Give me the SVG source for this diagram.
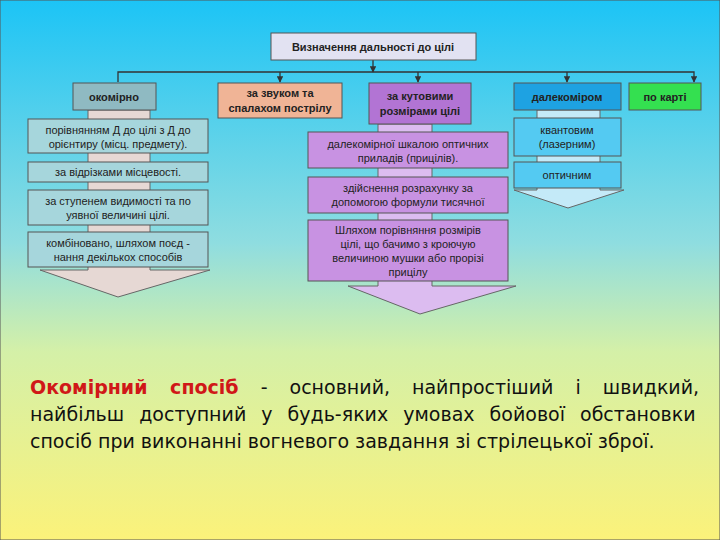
<svg xmlns="http://www.w3.org/2000/svg" width="720" height="540" viewBox="0 0 720 540">
<defs>
<linearGradient id="bg" x1="0" y1="0" x2="0" y2="1">
<stop offset="0" stop-color="#1cc4f6"/><stop offset="0.45" stop-color="#8fdde0"/><stop offset="0.65" stop-color="#d4f0a8"/><stop offset="1" stop-color="#fbf27a"/>
</linearGradient>
<marker id="ar" viewBox="0 0 10 10" refX="9" refY="5" markerWidth="5" markerHeight="5" orient="auto"><path d="M0,0 L10,5 L0,10 z" fill="#333"/></marker>
<style>
text{font-family:"Liberation Sans",Arial,sans-serif;font-size:11px;fill:#222;text-anchor:middle}
.b{font-weight:bold}
rect{stroke:#555;stroke-width:1}
.arw{stroke:#666;stroke-width:1}
.bt{font-family:"DejaVu Sans",sans-serif;font-size:19px;text-anchor:start;fill:#111}
</style>
</defs>
<rect x="0" y="0" width="720" height="540" fill="url(#bg)" stroke="none"/>
<g id="connectors" stroke="#333" stroke-width="1.3" fill="none">
<line x1="373" y1="60" x2="373" y2="72" marker-end="url(#ar)"/>
<polyline points="118,82 118,72 694,72 694,82" marker-end="url(#ar)"/>
<line x1="280" y1="72" x2="280" y2="82" marker-end="url(#ar)"/>
<line x1="418" y1="72" x2="418" y2="82" marker-end="url(#ar)"/>
<line x1="567" y1="72" x2="567" y2="82" marker-end="url(#ar)"/>
</g>
<g id="arrows">
<polygon class="arw" points="88,110 150,110 150,270 210,270 118,297 40,270 88,270" fill="#e6d8d4"/>
<polygon class="arw" points="378,124 432,124 432,286 516,286 420,314 348,286 378,286" fill="#dcbcf0"/>
<polygon class="arw" points="537,110 600,110 600,190 624,190 568,208 514,190 537,190" fill="#c4eaf8"/>
</g>
<g id="title"><rect x="271" y="33" width="205" height="27" fill="#e2e2f2"/><text x="373" y="51" class="b">Визначення дальності до цілі</text></g>
<g id="n-okom"><rect x="73" y="83" width="83" height="27" fill="#8fbac2"/><text x="114" y="101" class="b">окомірно</text></g>
<g id="n-zvuk"><rect x="218" y="83" width="124" height="35" fill="#f0b496"/><text x="280" y="97" class="b">за звуком та</text><text x="280" y="112" class="b">спалахом пострілу</text></g>
<g id="n-kut"><rect x="369" y="83" width="102" height="41" fill="#b274d4"/><text x="420" y="100" class="b">за кутовими</text><text x="420" y="115" class="b">розмірами цілі</text></g>
<g id="n-dal"><rect x="514" y="83" width="107" height="27" fill="#1ea2e2"/><text x="567" y="101" class="b">далекоміром</text></g>
<g id="n-karta"><rect x="629" y="83" width="72" height="27" fill="#34e050"/><text x="665" y="101" class="b">по карті</text></g>
<g id="l1"><rect x="28" y="119" width="180" height="34" fill="#a6d6dc"/><text x="118" y="134">порівнянням Д до цілі з Д до</text><text x="118" y="148">орієнтиру (місц. предмету).</text></g>
<g id="l2"><rect x="28" y="162" width="180" height="20" fill="#a6d6dc"/><text x="118" y="176">за відрізками місцевості.</text></g>
<g id="l3"><rect x="28" y="190" width="180" height="35" fill="#a6d6dc"/><text x="118" y="205">за ступенем видимості та по</text><text x="118" y="219">уявної величині цілі.</text></g>
<g id="l4"><rect x="28" y="232" width="180" height="35" fill="#a6d6dc"/><text x="118" y="247">комбіновано, шляхом поєд -</text><text x="118" y="261">нання декількох способів</text></g>
<g id="m1"><rect x="308" y="132" width="200" height="36" fill="#c892e2"/><text x="408" y="148">далекомірної шкалою оптичних</text><text x="408" y="162">приладів (прицілів).</text></g>
<g id="m2"><rect x="308" y="177" width="200" height="36" fill="#c892e2"/><text x="408" y="192">здійснення розрахунку за</text><text x="408" y="206">допомогою формули тисячної</text></g>
<g id="m3"><rect x="308" y="220" width="200" height="61" fill="#c892e2"/><text x="408" y="234">Шляхом порівняння розмірів</text><text x="408" y="248">цілі, що бачимо з кроючую</text><text x="408" y="262">величиною мушки або прорізі</text><text x="408" y="276">прицілу</text></g>
<g id="r1"><rect x="514" y="118" width="107" height="38" fill="#54caf2"/><text x="567" y="134">квантовим</text><text x="567" y="148">(лазерним)</text></g>
<g id="r2"><rect x="514" y="162" width="107" height="26" fill="#54caf2"/><text x="567" y="179">оптичним</text></g>
<g id="bottom">
<text class="bt" x="30" y="394" word-spacing="16"><tspan fill="#d01818" font-weight="bold">Окомірний спосіб</tspan> - основний, найпростіший і швидкий,</text>
<text class="bt" x="30" y="421" word-spacing="9">найбільш доступний у будь-яких умовах бойової обстановки</text>
<text class="bt" x="30" y="448">спосіб при виконанні вогневого завдання зі стрілецької зброї.</text>
</g>
</svg>
